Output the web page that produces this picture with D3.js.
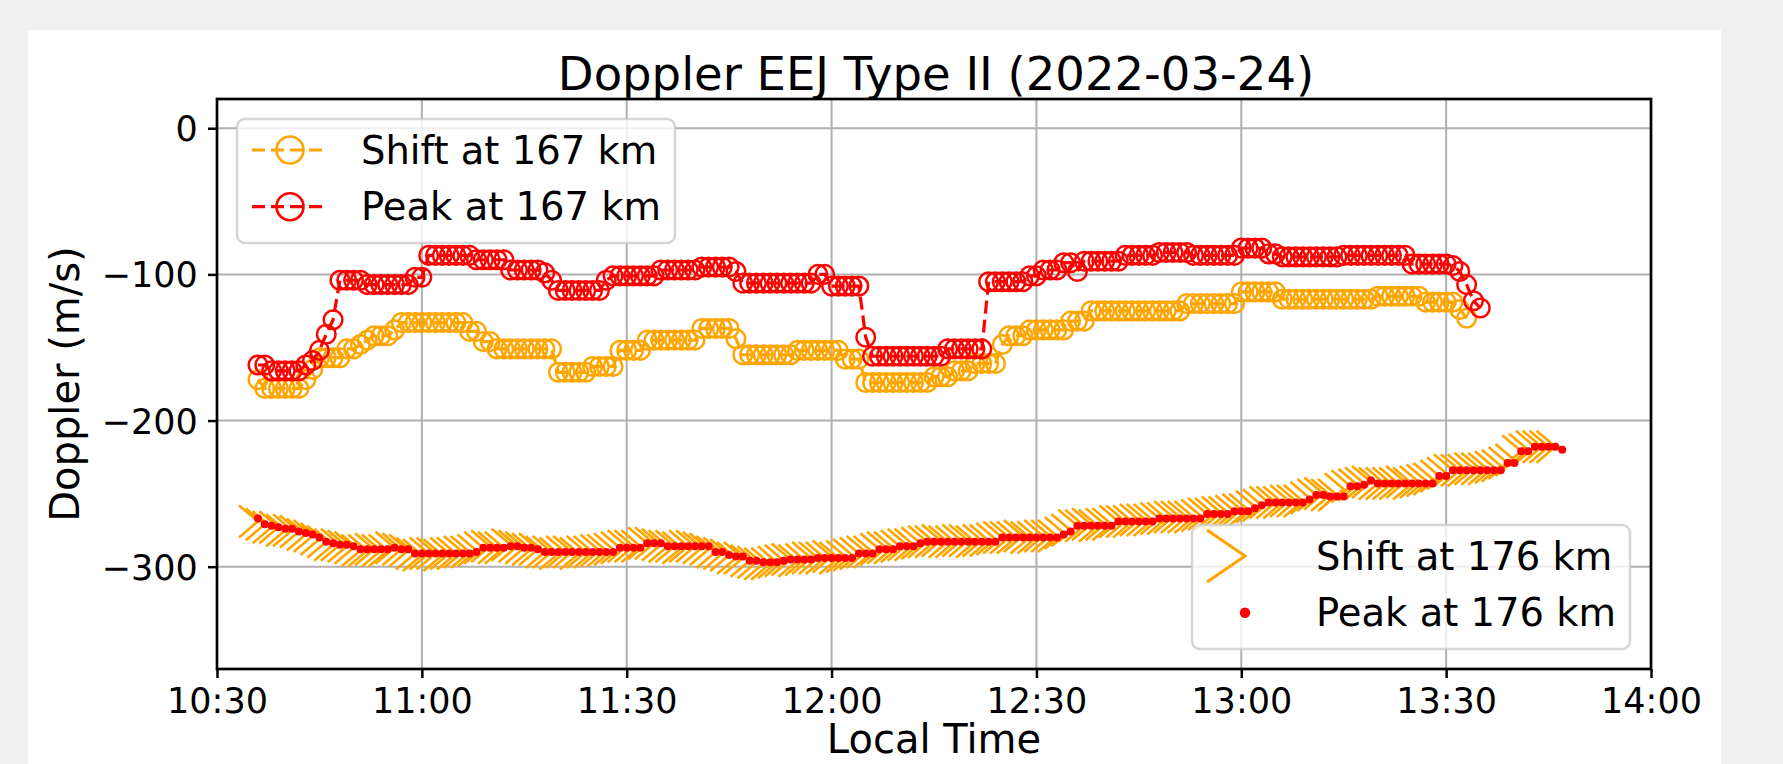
<!DOCTYPE html>
<meta charset="utf-8">
<style>

body {
    margin: 0;
    background: #f0f0f0;
}

svg {
    display: block;
    font-family: "DejaVu Sans", sans-serif;
}

.grid line {
    stroke: #b0b0b0;
    stroke-width: 2px;
}

.axis text {
    font-size: 35px;
    fill: #000;
}

.axis line {
    stroke: #000;
    stroke-width: 2.5px;
}

.line {
    fill: none;
    stroke-width: 3.2px;
    stroke-dasharray: 13, 6;
}

.legend-box {
    fill: #fff;
    fill-opacity: 0.8;
    stroke: #cccccc;
    stroke-opacity: 0.8;
    stroke-width: 2.5px;
}

.legend text {
    font-size: 38.5px;
}

</style>
<svg width="1783" height="764"></svg>
<script src="https://d3js.org/d3.v7.min.js"></script>
<script>

// one sample per minute, first sample at the start time
var day = "2022-03-24";
var start167 = "10:36";
var start176 = "10:36";

var shift167 = [
    -172, -178, -178, -178, -178, -178, -178, -172, -165, -157, -157, -157, -157,
    -151, -151, -148, -145, -142, -142, -142, -138,
    -133, -133, -133, -133, -133, -133, -133, -133, -133, -133,
    -139, -139, -146, -146,
    -151, -151, -151, -151, -151, -151, -151, -151, -151,
    -167, -167, -167, -167, -167,
    -163, -163, -163, -163,
    -152, -152, -152, -152,
    -145, -145, -145, -145, -145, -145, -145, -145,
    -137, -137, -137, -137, -137, -144,
    -155, -155, -155, -155, -155, -155, -155, -155,
    -152, -152, -152, -152, -152, -152, -152,
    -158, -158, -158,
    -174, -174, -174, -174, -174, -174, -174, -174, -174, -174,
    -170, -170, -170, -166, -166, -166, -161, -161, -161, -161,
    -148, -142, -142, -142,
    -138, -138, -138, -138, -138, -138,
    -132, -132, -132,
    -125, -125, -125, -125, -125, -125, -125, -125, -125, -125, -125, -125, -125, -125,
    -120, -120, -120, -120, -120, -120, -120, -120,
    -112, -112, -112, -112, -112, -112,
    -117, -117, -117, -117, -117, -117, -117, -117, -117, -117, -117, -117, -117, -117,
    -115, -115, -115, -115, -115, -115, -115,
    -119, -119, -119, -119, -119, -124, -130
];

var peak167 = [
    -162, -162, -166, -166, -166, -166, -166, -162, -159, -152, -141, -131,
    -104, -104, -104, -104,
    -107, -107, -107, -107, -107, -107, -107,
    -102, -102,
    -87, -87, -87, -87, -87, -87, -87,
    -90, -90, -90, -90, -90,
    -97, -97, -97, -97, -97, -99, -104,
    -111, -111, -111, -111, -111, -111, -111,
    -104,
    -101, -101, -101, -101, -101, -101, -101,
    -97, -97, -97, -97, -97, -97,
    -95, -95, -95, -95, -95, -98,
    -106, -106, -106, -106, -106, -106, -106, -106, -106, -106, -106,
    -100, -100,
    -108, -108, -108, -108, -108,
    -143,
    -156, -156, -156, -156, -156, -156, -156, -156, -156, -156, -156,
    -151, -151, -151, -151, -151, -151,
    -105, -105, -105, -105, -105, -105,
    -101, -101, -97, -97, -97, -92, -92, -98,
    -91, -91, -91, -91, -91, -91,
    -87, -87, -87, -87, -87,
    -85, -85, -85, -85, -85,
    -87, -87, -87, -87, -87, -87, -87,
    -82, -82, -82, -82, -86, -86,
    -88, -88, -88, -88, -88, -88, -88, -88, -88,
    -87, -87, -87, -87, -87, -87, -87, -87, -87, -87,
    -93, -93, -93, -93, -93, -93,
    -94, -98, -107, -118, -123
];

var shift176 = [
    -269, -271, -273, -273, -275, -275, -276, -278, -279, -281, -283, -285, -285, -286, -287,
    -289, -289, -288, -289, -289,
    -287, -288, -289,
    -291, -292, -291, -291, -292, -291, -291, -290, -290,
    -289,
    -287, -286, -287, -287,
    -285, -286,
    -287, -288, -288,
    -290, -290, -291, -290, -290, -291, -290, -290, -289, -289, -288,
    -287, -286, -286, -286,
    -284, -284, -285,
    -286, -286, -287, -286, -286, -287, -288,
    -290, -291, -292, -294, -294, -296, -297, -298, -298, -297, -296, -295, -296, -295, -294,
    -294, -294, -293, -294, -293, -292,
    -291, -290, -290,
    -288, -287, -287,
    -286, -285, -285,
    -284,
    -283, -283, -282, -283, -283, -282, -282, -283, -282, -282, -281,
    -280, -280, -280, -279, -280, -280, -279, -279, -279,
    -277, -275,
    -272, -272, -271, -272, -271, -271,
    -269, -269, -269, -268, -268, -268,
    -267, -267, -266, -266, -266, -266, -265,
    -264, -264, -263, -263,
    -262, -261, -261,
    -259, -258,
    -256, -256, -256, -255, -255, -255,
    -253, -251, -250,
    -251, -251, -247,
    -245, -244, -243, -242,
    -243, -243, -243, -243, -242, -243, -242, -241, -240,
    -238, -236,
    -234, -234, -234, -233, -233, -233, -232, -231,
    -229, -227, -221, -220,
    -218, -218, -218, -218
];

var peak176 = [
    -267, -271, -272, -273, -274, -274, -276, -277, -278, -280, -283, -284, -285, -285, -286,
    -288, -288, -288, -288, -288,
    -287, -288, -288,
    -291, -291, -291, -291, -291, -291, -291, -291, -291,
    -290,
    -287, -287, -287, -287,
    -286, -286,
    -287, -287, -288,
    -290, -290, -290, -290, -290, -290, -290, -290, -290, -290, -290,
    -287, -287, -287, -287,
    -284, -284, -284,
    -286, -286, -286, -286, -286, -286, -286,
    -290, -290, -292, -293, -293, -296, -296, -297, -297, -297, -296, -295, -295, -295, -295,
    -294, -294, -294, -294, -294, -294,
    -291, -291, -291,
    -288, -288, -288,
    -286, -286, -286,
    -284,
    -283, -283, -283, -283, -283, -283, -283, -283, -283, -283, -283,
    -280, -280, -280, -280, -280, -280, -280, -280, -280,
    -278, -276,
    -272, -272, -272, -272, -272, -272,
    -269, -269, -269, -269, -269, -269,
    -267, -267, -267, -267, -267, -267, -267,
    -264, -264, -264, -264,
    -262, -262, -262,
    -260, -258,
    -256, -256, -256, -256, -256, -256,
    -254, -251, -251,
    -252, -252, -252,
    -245, -245, -244, -241,
    -243, -243, -243, -243, -243, -243, -243, -243, -243,
    -238, -238,
    -234, -234, -234, -234, -234, -234, -234, -234,
    -229, -229, -221, -221,
    -218, -218, -218, -218,
    -220
];

var xTicks = ["10:30", "11:00", "11:30", "12:00", "12:30", "13:00", "13:30", "14:00"];
var yTicks = [0, -100, -200, -300];

var orange = "#ffa500",
    red = "#ff0000";

var parse = d3.timeParse("%Y-%m-%d %H:%M");

function series(startStr, values) {
    var s = parse(day + " " + startStr);
    return values.map(function(v, i) {
        return {t: d3.timeMinute.offset(s, i), v: v};
    });
}

var svg = d3.select("svg"),
    margin = {top: 99, right: 132, bottom: 95, left: 217},
    width = +svg.attr("width") - margin.left - margin.right,
    height = +svg.attr("height") - margin.top - margin.bottom;

// figure panel
svg.append("rect")
    .attr("x", 28)
    .attr("y", 30)
    .attr("width", 1693)
    .attr("height", 760)
    .attr("fill", "#fff");

var g = svg.append("g").attr("transform", "translate(" + margin.left + "," + margin.top + ")");

var x = d3.scaleTime()
    .domain([parse(day + " 10:30"), parse(day + " 14:00")])
    .range([0, width]);

var y = d3.scaleLinear()
    .domain([-370, 20])
    .range([height, 0]);

var xTickDates = xTicks.map(function(s) { return parse(day + " " + s); });

// grid
var grid = g.append("g").attr("class", "grid");
grid.selectAll(".gx")
    .data(xTickDates)
    .enter().append("line")
    .attr("x1", function(d) { return x(d); })
    .attr("x2", function(d) { return x(d); })
    .attr("y1", 0)
    .attr("y2", height);
grid.selectAll(".gy")
    .data(yTicks)
    .enter().append("line")
    .attr("x1", 0)
    .attr("x2", width)
    .attr("y1", function(d) { return y(d); })
    .attr("y2", function(d) { return y(d); });

var line = d3.line()
    .x(function(d) { return x(d.t); })
    .y(function(d) { return y(d.v); });

function circleSeries(data, color) {
    g.append("path")
        .datum(data)
        .attr("class", "line")
        .attr("stroke", color)
        .attr("d", line);
    g.append("g").selectAll("circle")
        .data(data)
        .enter().append("circle")
        .attr("cx", function(d) { return x(d.t); })
        .attr("cy", function(d) { return y(d.v); })
        .attr("r", 9.3)
        .attr("fill", "none")
        .attr("stroke", color)
        .attr("stroke-width", 2.5);
}

circleSeries(series(start167, shift167), orange);
circleSeries(series(start167, peak167), red);

// chevron markers, tip at the data point
g.append("g").selectAll("path")
    .data(series(start176, shift176))
    .enter().append("path")
    .attr("transform", function(d) { return "translate(" + x(d.t) + "," + y(d.v) + ")"; })
    .attr("d", "M-19,-16L0,0L-19,16")
    .attr("fill", "none")
    .attr("stroke", orange)
    .attr("stroke-width", 2.6);

g.append("g").selectAll("circle")
    .data(series(start176, peak176))
    .enter().append("circle")
    .attr("cx", function(d) { return x(d.t); })
    .attr("cy", function(d) { return y(d.v); })
    .attr("r", 4)
    .attr("fill", red);

// axes
var xAxis = g.append("g")
    .attr("class", "axis")
    .attr("transform", "translate(0," + height + ")")
    .call(d3.axisBottom(x)
        .tickValues(xTickDates)
        .tickFormat(d3.timeFormat("%H:%M"))
        .tickSize(9)
        .tickPadding(10.5));

var yAxis = g.append("g")
    .attr("class", "axis")
    .call(d3.axisLeft(y)
        .tickValues(yTicks)
        .tickFormat(function(d) { return d < 0 ? "\u2212" + Math.abs(d) : d; })
        .tickSize(9)
        .tickPadding(10.3));
yAxis.selectAll("text").attr("dy", "0.36em");

g.selectAll(".axis .domain").remove();
g.selectAll(".axis text").attr("font-family", "DejaVu Sans");

g.append("rect")
    .attr("width", width)
    .attr("height", height)
    .attr("fill", "none")
    .attr("stroke", "#000")
    .attr("stroke-width", 2.7);

// legends
function legend(left, top, items) {
    var lg = svg.append("g").attr("class", "legend");
    lg.append("rect")
        .attr("class", "legend-box")
        .attr("x", left)
        .attr("y", top)
        .attr("width", 438)
        .attr("height", 124)
        .attr("rx", 8);
    items.forEach(function(it, i) {
        var cy = top + 31 + i * 56.7,
            cx = left + 53;
        if (it.type === "circle") {
            lg.append("line")
                .attr("x1", left + 15).attr("x2", left + 91)
                .attr("y1", cy).attr("y2", cy)
                .attr("stroke", it.color)
                .attr("stroke-width", 3.2)
                .attr("stroke-dasharray", "13,6");
            lg.append("circle")
                .attr("cx", cx).attr("cy", cy).attr("r", 13.5)
                .attr("fill", "none")
                .attr("stroke", it.color)
                .attr("stroke-width", 2.6);
        } else if (it.type === "chevron") {
            lg.append("path")
                .attr("transform", "translate(" + cx + "," + cy + ")")
                .attr("d", "M-38,-26L0,0L-38,26")
                .attr("fill", "none")
                .attr("stroke", it.color)
                .attr("stroke-width", 3);
        } else {
            lg.append("circle")
                .attr("cx", cx).attr("cy", cy).attr("r", 5.2)
                .attr("fill", it.color);
        }
        lg.append("text")
            .attr("x", left + 124)
            .attr("y", cy + 13.5)
            .text(it.label);
    });
}

legend(237, 119, [
    {type: "circle", color: orange, label: "Shift at 167 km"},
    {type: "circle", color: red, label: "Peak at 167 km"}
]);

legend(1192, 525, [
    {type: "chevron", color: orange, label: "Shift at 176 km"},
    {type: "dot", color: red, label: "Peak at 176 km"}
]);

// labels
svg.append("text")
    .attr("x", margin.left + width / 2 + 2)
    .attr("y", 90)
    .attr("text-anchor", "middle")
    .attr("font-size", 46.5)
    .text("Doppler EEJ Type II (2022-03-24)");

svg.append("text")
    .attr("transform", "translate(79," + (margin.top + height / 2) + ") rotate(-90)")
    .attr("text-anchor", "middle")
    .attr("font-size", 40)
    .text("Doppler (m/s)");

svg.append("text")
    .attr("x", margin.left + width / 2)
    .attr("y", 753)
    .attr("text-anchor", "middle")
    .attr("font-size", 40)
    .text("Local Time");

</script>
